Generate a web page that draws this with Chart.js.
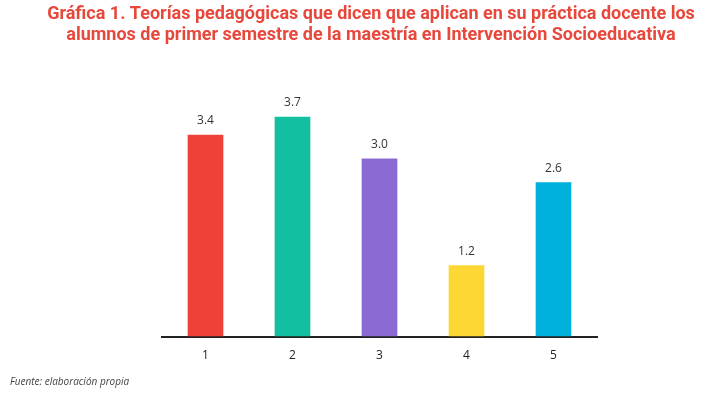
<!DOCTYPE html>
<html>
<head>
<meta charset="utf-8">
<script src="https://cdn.jsdelivr.net/npm/chart.js@4"></script>
<style>
  html, body { margin: 0; padding: 0; background: #fff; }
  #wrap { width: 723px; height: 394px; position: relative; }
</style>
</head>
<body>
<div id="wrap"><canvas id="chart" width="723" height="394"></canvas></div>
<script>
// Datos de la gráfica
const categorias = ['1', '2', '3', '4', '5'];
const valores = [3.4, 3.7, 3.0, 1.2, 2.6];
const colores = ['#ef4136', '#13bfa1', '#8b6ad3', '#fdd835', '#00b1dd'];
const titulo = [
    'Gráfica 1. Teorías pedagógicas que dicen que aplican en su práctica docente los',
    'alumnos de primer semestre de la maestría en Intervención Socioeducativa'
];
const fuente = 'Fuente: elaboración propia';

// Título, etiquetas sobre las barras y nota al pie
const etiquetas = {
    id: 'etiquetas',
    afterDatasetsDraw(chart) {
        const ctx = chart.ctx;
        const meta = chart.getDatasetMeta(0);
        ctx.save();
        ctx.font = '12px "Open Sans"';
        ctx.fillStyle = '#333';
        ctx.textAlign = 'center';
        ctx.textBaseline = 'bottom';
        meta.data.forEach((bar, i) => {
            ctx.fillText(valores[i].toFixed(1), bar.x, bar.y - 8);
        });

        ctx.font = 'bold 18px Roboto';
        ctx.fillStyle = '#e8473b';
        ctx.textBaseline = 'middle';
        ctx.fillText(titulo[0], 371, 14, 668);
        ctx.fillText(titulo[1], 371, 35, 635);

        ctx.font = 'italic 10px "Open Sans"';
        ctx.fillStyle = '#444';
        ctx.textAlign = 'left';
        ctx.fillText(fuente, 10, 382);
        ctx.restore();
    }
};

new Chart(document.getElementById('chart'), {
    type: 'bar',
    data: {
        labels: categorias,
        datasets: [{
            data: valores,
            backgroundColor: colores,
            categoryPercentage: 1,
            barPercentage: 0.41,
        }],
    },
    options: {
        responsive: false,
        animation: false,
        layout: { padding: { top: 99, left: 162, right: 126, bottom: 27 } },
        plugins: {
            legend: { display: false },
            tooltip: { enabled: false },
            title: { display: false },
        },
        scales: {
            x: {
                grid: { display: false },
                border: { color: '#222', width: 2 },
                ticks: { color: '#222', font: { family: 'Open Sans', size: 12 }, padding: 4 },
            },
            y: {
                display: false,
                min: 0,
                max: 4,
            },
        },
    },
    plugins: [etiquetas],
});
</script>
</body>
</html>
